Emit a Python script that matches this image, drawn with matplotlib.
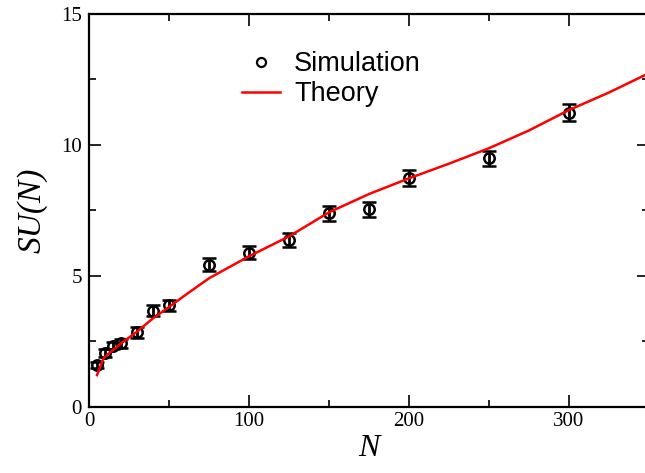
import numpy as np
import matplotlib
matplotlib.use("Agg")
import matplotlib.pyplot as plt
from matplotlib.ticker import MultipleLocator
from matplotlib.lines import Line2D

# simulation points (with error bars)
sim_n = [5, 10, 15, 20, 30, 40, 50, 75, 100, 125, 150, 175, 200, 250, 300]
sim_su = [1.59, 2.06, 2.33, 2.41, 2.83, 3.66, 3.86, 5.42, 5.88, 6.36, 7.38, 7.54, 8.72, 9.48, 11.23]
sim_err = [0.12, 0.15, 0.15, 0.18, 0.2, 0.2, 0.2, 0.25, 0.25, 0.28, 0.3, 0.28, 0.3, 0.3, 0.32]

# theory curve
th_n = [5, 9, 15, 20, 30, 40, 50, 60, 75, 100, 125, 150, 175, 200, 225, 250, 275, 300, 325, 350]
th_su = [1.2, 1.84, 2.16, 2.41, 2.86, 3.37, 3.8, 4.25, 4.9, 5.74, 6.5, 7.42, 8.12, 8.72,
         9.28, 9.87, 10.55, 11.33, 12.0, 12.74]

fig = plt.figure(figsize=(6.45, 4.73), dpi=100)
ax = fig.add_axes([89 / 645, (473 - 406.5) / 473, 560 / 645, 392.5 / 473])

ax.errorbar(sim_n, sim_su, yerr=sim_err, fmt='o', mfc='none', mec='black', mew=1.8,
            ms=7.5, ecolor='black', elinewidth=2.0, capsize=5, capthick=2.5, zorder=3)
ax.plot(th_n, th_su, color='#ff0000', lw=1.8, zorder=4)

ax.set_xlim(0, 350)
ax.set_ylim(0, 15)
ax.xaxis.set_major_locator(MultipleLocator(100))
ax.xaxis.set_minor_locator(MultipleLocator(50))
ax.yaxis.set_major_locator(MultipleLocator(5))
ax.yaxis.set_minor_locator(MultipleLocator(2.5))

ax.tick_params(which='both', direction='in', top=True, right=True, width=1.2)
ax.tick_params(which='major', length=8.5)
ax.tick_params(which='minor', length=5)
ax.tick_params(axis='x', pad=4)
ax.tick_params(axis='y', pad=5)
for lab in ax.get_xticklabels() + ax.get_yticklabels():
    lab.set_fontfamily('Liberation Serif')
    lab.set_fontsize(15)
for sp in ax.spines.values():
    sp.set_linewidth(1.6)

ax.set_xlabel('N', fontfamily='Liberation Serif', fontstyle='italic', fontsize=23, labelpad=2)
ax.set_ylabel('SU(N)', fontfamily='Liberation Serif', fontstyle='italic', fontsize=24, labelpad=10)

sim_handle = Line2D([], [], ls='none', marker='o', mfc='none', mec='black', mew=1.6, ms=6.5)
th_handle = Line2D([], [], color='#ff0000', lw=1.8)
ax.legend([sim_handle, th_handle], ['Simulation', 'Theory'], loc='upper left',
          bbox_to_anchor=(0.249, 0.94), frameon=False, borderpad=0, handlelength=1.4,
          handletextpad=0.52, labelspacing=0.15, prop={'family': 'Liberation Sans', 'size': 19.5})

fig.savefig('out.png', dpi=100)
